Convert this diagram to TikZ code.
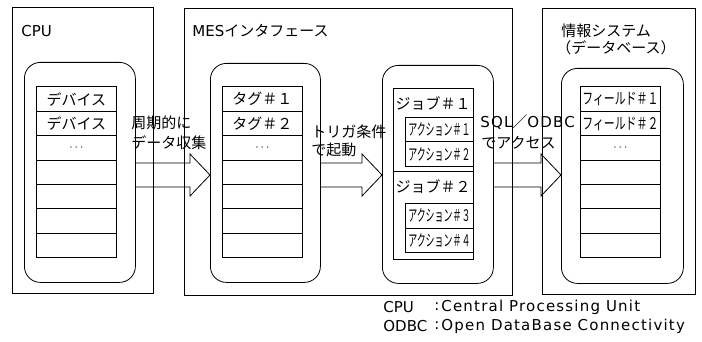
\documentclass[tikz,border=0pt]{standalone}
\usepackage{fontspec}
\setmainfont{Noto Sans CJK JP}
\newfontfamily\lat{DejaVu Sans}
\newfontfamily\latls[LetterSpace=8]{DejaVu Sans}
\newfontfamily\narrowjp[FakeStretch=0.56]{Noto Sans CJK JP}
\newfontfamily\fieldjp[FakeStretch=0.68]{Noto Sans CJK JP}
\usetikzlibrary{calc}

\tikzset{
  every node/.style={font=\fontsize{15}{18}\selectfont, inner sep=0pt},
  outerbox/.style={draw, anchor=north west},
  roundbox/.style={draw, rounded corners=16pt, anchor=north west},
  cell/.style={draw, anchor=north west, minimum width=80pt, minimum height=24.4pt},
  actbox/.style={draw, anchor=north west, minimum width=68pt, minimum height=24.5pt,
    font=\fontsize{16}{18}\narrowjp},
  lbl/.style={anchor=west},
  legend/.style={anchor=west, font=\fontsize{15}{18}\latls},
  legendkey/.style={anchor=west, font=\fontsize{15}{18}\lat},
  blockarrow/.style={draw, line join=miter},
}

% block arrow from the east side of #1 to the west side of #2, centred on (axis)
\newcommand\blockarrowpath[2]{%
  \path[blockarrow] let \p1=(#1.east), \p2=(#2.west), \p3=(axis) in
    (\x1,\y3+12pt) -- (\x2-20pt,\y3+12pt) -- (\x2-20pt,\y3+21pt) -- (\x2,\y3)
    -- (\x2-20pt,\y3-21pt) -- (\x2-20pt,\y3-12pt) -- (\x1,\y3-12pt);}

\newcommand\dotsym{{\fontsize{12}{12}\selectfont$\cdots$}}

\begin{document}
\begin{tikzpicture}[x=1pt, y=-1pt, line width=0.8pt]
\useasboundingbox (0,0) rectangle (702,342);

% outer frames
\node[outerbox, minimum width=141pt, minimum height=286pt] (cpu)  at (12,7) {};
\node[outerbox, minimum width=328pt, minimum height=287pt] (mes)  at (184,8) {};
\node[outerbox, minimum width=153pt, minimum height=286pt] (info) at (542,8) {};

% frame titles
\node[lbl] (tcpu) at (21,31) {\lat CPU};
\node[lbl] (tmes) at (192,31) {{\lat MES}インタフェース};
\node[lbl] (tinfo1) at (561,31) {情報システム};
\node[lbl] (tinfo2) at (556,48) {（データベース）};

% rounded containers
\node[roundbox, minimum width=111pt, minimum height=220pt] (cpuin)  at (24,62) {};
\node[roundbox, minimum width=110pt, minimum height=219pt] (tagin)  at (210,63) {};
\node[roundbox, minimum width=111pt, minimum height=218pt] (jobin)  at (382,65) {};
\node[roundbox, minimum width=122pt, minimum height=215pt] (infoin) at (561,68) {};

% device table
\foreach \t [count=\i from 0] in {デバイス, デバイス, \dotsym, {}, {}, {}, {}}
  \node[cell] (dev\i) at (36,{86.5+24.4*\i}) {\t};

% tag table
\foreach \t [count=\i from 0] in {タグ＃１, タグ＃２, \dotsym, {}, {}, {}, {}}
  \node[cell] (tag\i) at (222,{86.5+24.4*\i}) {\t};

% field table
\foreach \t [count=\i from 0] in {{\fontsize{16}{18}\fieldjp フィールド＃１}, {\fontsize{16}{18}\fieldjp フィールド＃２}, \dotsym, {}, {}, {}, {}}
  \node[cell] (fld\i) at (580,{86.5+24.4*\i}) {\t};

% jobs and their actions
\node[outerbox, minimum width=80pt, minimum height=83pt] (job1) at (393,88) {};
\node[outerbox, minimum width=80pt, minimum height=88pt] (job2) at (393,171) {};
\node (job1t) at (433,103) {ジョブ＃１};
\node (job2t) at (433,186) {ジョブ＃２};
\node[actbox] (act1) at (405,117) {アクション＃１};
\node[actbox] (act2) at (405,141.5) {アクション＃２};
\node[actbox] (act3) at (405,203) {アクション＃３};
\node[actbox] (act4) at (405,227.5) {アクション＃４};

% data flow arrows
\coordinate (axis) at (0,175);
\blockarrowpath{cpuin}{tagin}
\blockarrowpath{tagin}{jobin}
\blockarrowpath{jobin}{infoin}

% arrow captions
\node[lbl] (c1a) at (131,123) {周期的に};
\node[lbl] (c1b) at (131,143) {データ収集};
\node[lbl] (c2a) at (311,132) {トリガ条件};
\node[lbl] (c2b) at (311,150) {で起動};
\node[lbl] (c3a) at (480,122) {{\latls SQL}／{\latls ODBC}};
\node[lbl] (c3b) at (481,143) {でアクセス};

% abbreviations
\node[legendkey] (k1) at (383,307) {CPU};
\node[legend] (k1c) at (434,307) {:};
\node[legend] (k1d) at (441,307) {Central Processing Unit};
\node[legendkey] (k2) at (383,326) {ODBC};
\node[legend] (k2c) at (434,326) {:};
\node[legend] (k2d) at (441,326) {Open DataBase Connectivity};
\end{tikzpicture}
\end{document}
